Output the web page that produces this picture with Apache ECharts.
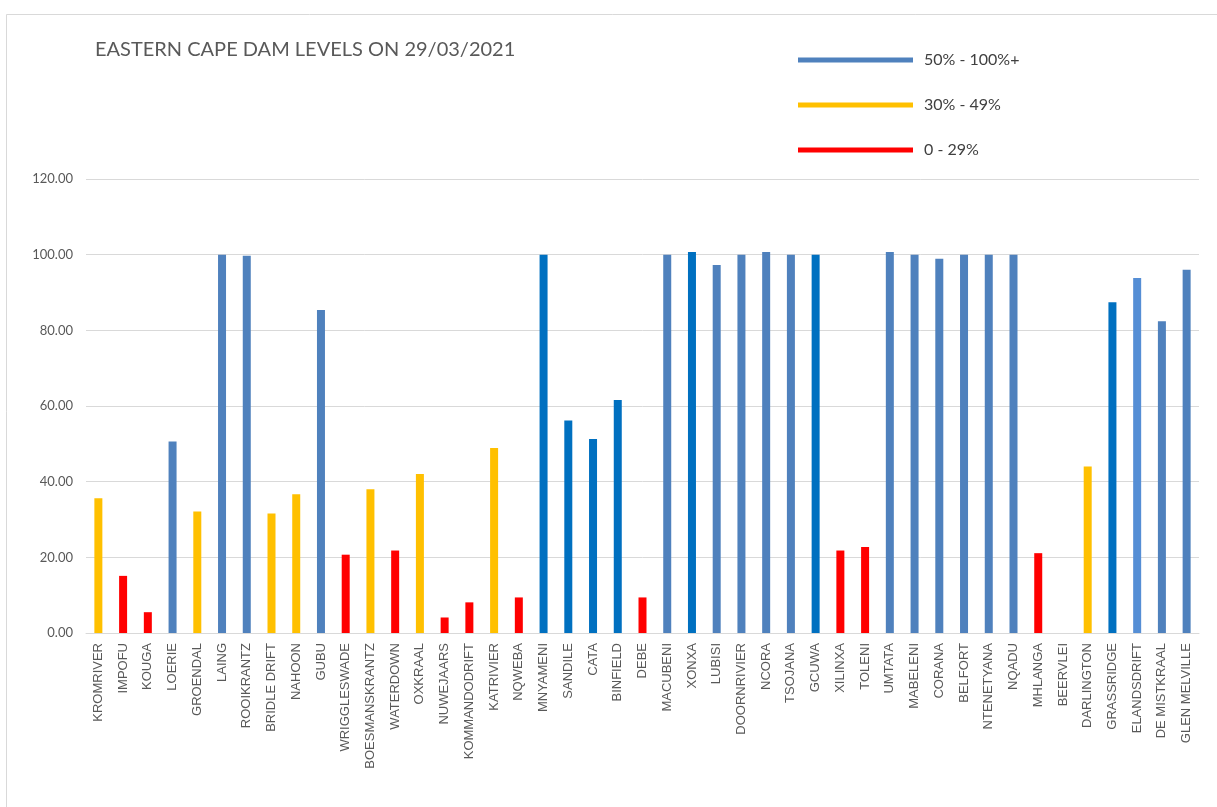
<!DOCTYPE html>
<html>
<head>
<meta charset="utf-8">
<script src="https://cdn.jsdelivr.net/npm/echarts@6/dist/echarts.min.js"></script>
<style>
html,body{margin:0;padding:0;background:#fff;}
#c{width:1217px;height:807px;}
</style>
</head>
<body>
<div id="c"></div>
<script>
const categories = ['KROMRIVER','IMPOFU','KOUGA','LOERIE','GROENDAL','LAING','ROOIKRANTZ','BRIDLE DRIFT','NAHOON','GUBU','WRIGGLESWADE','BOESMANSKRANTZ','WATERDOWN','OXKRAAL','NUWEJAARS','KOMMANDODRIFT','KATRIVIER','NQWEBA','MNYAMENI','SANDILE','CATA','BINFIELD','DEBE','MACUBENI','XONXA','LUBISI','DOORNRIVIER','NCORA','TSOJANA','GCUWA','XILINXA','TOLENI','UMTATA','MABELENI','CORANA','BELFORT','NTENETYANA','NQADU','MHLANGA','BEERVLEI','DARLINGTON','GRASSRIDGE','ELANDSDRIFT','DE MISTKRAAL','GLEN MELVILLE'];
const levels = [35.6,15.1,5.5,50.6,32.1,100.0,99.7,31.6,36.7,85.4,20.7,38.0,21.8,42.0,4.1,8.1,48.9,9.4,100.0,56.2,51.3,61.6,9.4,100.0,100.7,97.3,100.0,100.7,100.0,100.0,21.8,22.7,100.7,100.0,98.9,100.0,100.0,100.0,21.1,0,44.0,87.4,93.8,82.4,96.0];
const bandNames = ['50% - 100%+','30% - 49%','0 - 29%'];
const brightBlueDams = ['MNYAMENI','SANDILE','CATA','BINFIELD','XONXA','GCUWA','GRASSRIDGE'];
const lightBlueDams = ['ELANDSDRIFT'];
const yTicks = [0,20,40,60,80,100,120];

const COL_STEEL = '#4F81BD', COL_BRIGHT = '#0070C0', COL_LIGHT = '#558ED5';
const COL_YELLOW = '#FFC000', COL_RED = '#FF0000';

function band(v){ return v >= 50 ? 0 : (v >= 30 ? 1 : 2); }
function blueOf(name){
  if (brightBlueDams.indexOf(name) >= 0) return COL_BRIGHT;
  if (lightBlueDams.indexOf(name) >= 0) return COL_LIGHT;
  return COL_STEEL;
}
const bandColors = [COL_STEEL, COL_YELLOW, COL_RED];

const series = bandNames.map((nm, b) => ({
  name: nm,
  type: 'bar',
  barWidth: 8,
  barGap: '-100%',
  itemStyle: { color: bandColors[b] },
  data: levels.map((v, i) => {
    if (band(v) !== b) return '-';
    if (b === 0) return { value: v, itemStyle: { color: blueOf(categories[i]) } };
    return v;
  })
}));

const chart = echarts.init(document.getElementById('c'), null, {renderer:'canvas'});
chart.setOption({
  animation: false,
  backgroundColor: '#ffffff',
  title: {
    text: 'EASTERN CAPE DAM LEVELS ON 29/03/2021',
    left: 90, top: 35,
    textStyle: { fontFamily: 'Lato', fontSize: 20, fontWeight: 'normal', color: '#595959' }
  },
  legend: {
    orient: 'vertical',
    left: 793, top: 45,
    itemWidth: 115, itemHeight: 5,
    itemGap: 25,
    icon: 'rect',
    selectedMode: false,
    data: bandNames,
    textStyle: { fontFamily: 'Lato', fontSize: 16, color: '#404040', lineHeight: 20, padding: [0,0,0,6] }
  },
  graphic: [{
    type: 'rect',
    shape: { x: 6.5, y: 14.5, width: 1400, height: 1000 },
    style: { fill: 'none', stroke: '#d9d9d9', lineWidth: 1 },
    silent: true, z: -10
  }],
  grid: { left: 86, right: 18, top: 179, bottom: 174, containLabel: false },
  xAxis: {
    type: 'category',
    data: categories,
    axisLine: { lineStyle: { color: '#d9d9d9' } },
    axisTick: { show: false },
    axisLabel: {
      interval: 0, rotate: 90, margin: 10,
      fontFamily: 'Liberation Sans', fontSize: 13, color: '#595959'
    }
  },
  yAxis: {
    type: 'value',
    min: yTicks[0], max: yTicks[yTicks.length-1], interval: yTicks[1]-yTicks[0],
    axisLine: { show: false },
    axisTick: { show: false },
    splitLine: { lineStyle: { color: '#d9d9d9', width: 1 } },
    axisLabel: {
      margin: 13, fontFamily: 'Lato', fontSize: 13, color: '#595959',
      formatter: v => v.toFixed(2)
    }
  },
  series: series
});
</script>
</body>
</html>
